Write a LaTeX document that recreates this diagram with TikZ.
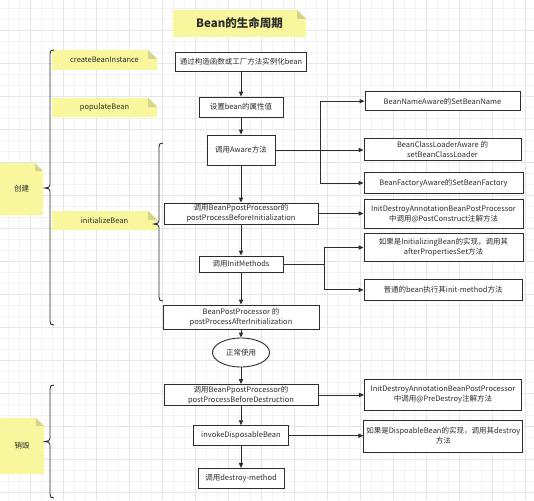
\documentclass[tikz,border=0pt]{standalone}
\usepackage{fontspec}
\setmainfont{Noto Sans CJK SC}
\usetikzlibrary{arrows.meta,shapes.geometric}
\definecolor{noteY}{RGB}{249,247,158}
\definecolor{noteF}{RGB}{212,212,140}
\definecolor{ink}{RGB}{45,45,45}
\definecolor{gridminor}{RGB}{243,243,243}
\definecolor{gridmajor}{RGB}{230,230,230}
\newcommand\yellownote[7]{% name,x1,y1,x2,y2,fold,text
  \fill[noteY] (#2,#3) -- ({#4-#6},#3) -- (#4,{#3+#6}) -- (#4,#5) -- (#2,#5) -- cycle;
  \fill[noteF] ({#4-#6},#3) -- (#4,{#3+#6}) -- ({#4-#6},{#3+#6}) -- cycle;
  \node[notetext] (#1) at ({(#2+#4)/2},{(#3+#5)/2}) {#7};
}
\newcommand\leftbrace[4]{% x, top, tip, bottom
  \draw[bracestyle] ({#1+4},#2) .. controls ({#1+1},#2) and (#1,{#2+1}) .. (#1,{#2+4})
    -- (#1,{#3-3}) .. controls (#1,{#3-1}) and ({#1-2},#3) .. ({#1-5},#3)
    .. controls ({#1-2},#3) and (#1,{#3+1}) .. (#1,{#3+3})
    -- (#1,{#4-4}) .. controls (#1,{#4-1}) and ({#1+1},#4) .. ({#1+4},#4);
}
\begin{document}
\begin{tikzpicture}[x=1pt,y=-1pt,
  box/.style={draw=ink, line width=0.9pt, fill=white, inner sep=0pt, align=center,
    text=ink, font=\fontsize{7.5}{10}\selectfont},
  conn/.style={draw=ink, line width=0.9pt},
  arr/.style={conn, -{Triangle[length=5pt,width=4.2pt]}},
  notetext/.style={text=ink, font=\fontsize{7.5}{10}\selectfont, inner sep=0pt},
  bracestyle/.style={draw=ink, line width=0.9pt}]
\useasboundingbox (0,0) rectangle (534,500);
\fill[white] (0,0) rectangle (534,500);
% grid
\foreach \i in {0,...,47} {
  \draw[gridminor, line width=0.4pt] ({8+11*\i},0) -- ({8+11*\i},500);
  \draw[gridminor, line width=0.4pt] (0,{8+11*\i}) -- (534,{8+11*\i});
}
\foreach \i in {1,...,16} {
  \draw[gridmajor, line width=0.5pt] ({-3+33*\i},0) -- ({-3+33*\i},500);
  \draw[gridmajor, line width=0.5pt] (0,{-3+33*\i}) -- (534,{-3+33*\i});
}
% title
\yellownote{title}{173}{10}{306}{37}{9}{\fontsize{11.5}{14}\selectfont\bfseries Bean的生命周期}
% left notes
\yellownote{nCreate}{0}{163}{43}{215}{8}{创建}
\yellownote{nDestroy}{0}{418}{44}{474}{8}{销毁}
\yellownote{nCBI}{52}{50}{157}{70}{9}{createBeanInstance}
\yellownote{nPB}{52}{98}{157}{117}{9}{populateBean}
\yellownote{nIB}{52}{211}{157}{230}{9}{initializeBean}
% braces
\leftbrace{50}{50}{188}{325}
\leftbrace{159}{143}{224}{301}
\leftbrace{50}{385}{441.5}{498}
% main column
\node[box, minimum width=131, minimum height=19] (b1) at (241,61.5) {通过构造函数或工厂方法实例化bean};
\node[box, minimum width=84, minimum height=20] (b2) at (241,107) {设置bean的属性值};
\node[box, minimum width=68, minimum height=30] (b3) at (241,150) {调用Aware方法};
\node[box, minimum width=154, minimum height=21] (b4) at (241,213.5) {调用BeanPpostProcessor的\\postProcessBeforeInitialization};
\node[box, minimum width=84, minimum height=16] (b5) at (241,264) {调用InitMethods};
\node[box, minimum width=156, minimum height=24] (b6) at (241,317) {BeanPostProcessor 的\\postProcessAfterInitialization};
\node[box, ellipse, minimum width=57, minimum height=29] (el) at (241,352.5) {正常使用};
\node[box, minimum width=154, minimum height=21] (b8) at (241,395) {调用BeanPpostProcessor的\\postProcessBeforeDestruction};
\node[box, minimum width=95, minimum height=20] (b9) at (241,435.7) {invokeDisposableBean};
\node[box, minimum width=86, minimum height=20] (b10) at (241,478.4) {调用destroy-method};
% right column
\node[box, minimum width=155, minimum height=19] (r1) at (442.5,101.2) {BeanNameAware的SetBeanName};
\node[box, minimum width=157, minimum height=22] (r2) at (442.5,149.5) {BeanClassLoaderAware 的\\setBeanClassLoader};
\node[box, minimum width=159, minimum height=21] (r3) at (443.5,183) {BeanFactoryAware的SetBeanFactory};
\node[box, minimum width=159, minimum height=29] (r4) at (443.5,213.8) {InitDestroyAnnotationBeanPostProcessor\\中调用@PostConstruct注解方法};
\node[box, minimum width=159, minimum height=28] (r5) at (443.5,247.5) {如果是InitializingBean的实现，调用其\\afterPropertiesSet方法};
\node[box, minimum width=158, minimum height=21] (r6) at (443,289.9) {普通的bean执行其init-method方法};
\node[box, minimum width=157, minimum height=31] (r7) at (443,394.5) {InitDestroyAnnotationBeanPostProcessor\\中调用@PreDestroy注解方法};
\node[box, minimum width=159, minimum height=32] (r8) at (443.3,436) {如果是DispoableBean的实现，调用其destroy\\方法};
% vertical flow
\draw[arr] (b1) -- (b2);
\draw[arr] (b2) -- (b3);
\draw[arr] (b3) -- (b4);
\draw[arr] (b4) -- (b5);
\draw[arr] (b5) -- (b6);
\draw[arr] (b6) -- (el);
\draw[arr] (el) -- (b8);
\draw[arr] (b8) -- (b9);
\draw[arr] (b9) -- (b10);
% aware branches
\coordinate (aw) at (320,150);
\draw[arr] (b3.east) -- (aw) |- (r1.west);
\draw[arr] (aw) |- (r3.west);
\draw[arr] (aw) -- (aw -| r2.west);
% before init
\draw[arr] (b4.east) -- (b4.east -| r4.west);
% init methods branches
\coordinate (im) at (324,264);
\draw[arr] (b5.east) -- (im) |- (r5.west);
\draw[arr] (im) |- (r6.west);
% destruction
\draw[arr] (b8.east) -- (b8.east -| r7.west);
\draw[arr] (b9.east) -- (b9.east -| r8.west);
\end{tikzpicture}
\end{document}
